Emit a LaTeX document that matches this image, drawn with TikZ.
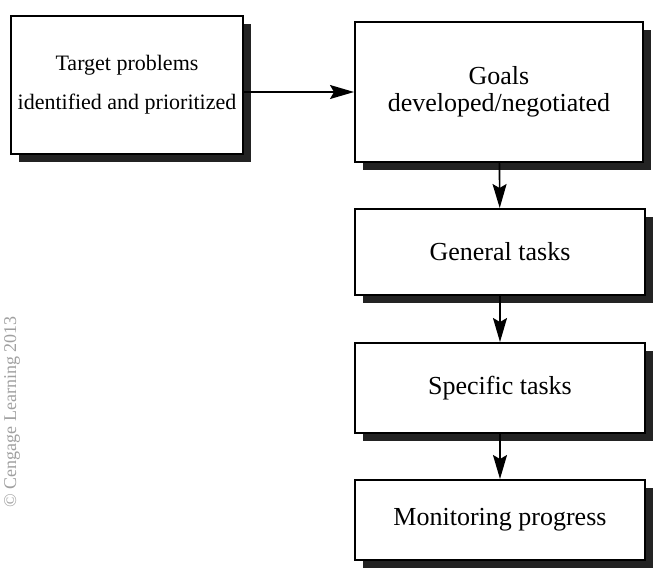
\documentclass[tikz,border=0pt]{standalone}
\usepackage{fontspec}
\setmainfont{Liberation Serif}
\usetikzlibrary{arrows.meta, positioning, shadows}
\definecolor{shadowgray}{RGB}{35,35,35}
\definecolor{notegray}{RGB}{160,160,160}
\tikzstyle{stage} = [rectangle, draw=black, line width=1pt, fill=white, minimum width=145pt, minimum height=44pt, text centered, align=center, font=\fontsize{13}{13.5}\selectfont, drop shadow={shadow xshift=4pt, shadow yshift=-4pt, fill=shadowgray, opacity=1}]
\tikzstyle{arrow} = [line width=0.8pt, -{Stealth[length=12pt, width=7pt, inset=2pt]}]

\begin{document}
\begin{tikzpicture}[x=0.5pt, y=-0.5pt]
\useasboundingbox (0,0) rectangle (655,569);

% Starting point
\node[stage, minimum width=115pt, minimum height=69pt, font=\fontsize{11}{19.5}\selectfont] (target) at (127,85) {Target problems\\identified and prioritized};

% Right-hand chain
\node[stage, minimum width=144pt, minimum height=70pt] (goals) at (499,92) {Goals\\developed/negotiated};
\node[stage, minimum height=43pt] (general) at (500,252) {General tasks};
\node[stage, minimum height=45pt] (specific) at (500,388) {Specific tasks};
\node[stage, minimum height=40pt] (monitor) at (500,520) {Monitoring progress};

% Side credit
\node[rotate=90, inner sep=0pt, font=\fontsize{9}{10}\selectfont, text=notegray] (credit) at (12,412) {\textcopyright{} Cengage Learning 2013};

% Flow
\draw[arrow] (target.east |- goals.west) -- (goals.west);
\draw[arrow] (goals) -- (general);
\draw[arrow] (general) -- (specific);
\draw[arrow] (specific) -- (monitor);

\end{tikzpicture}
\end{document}
